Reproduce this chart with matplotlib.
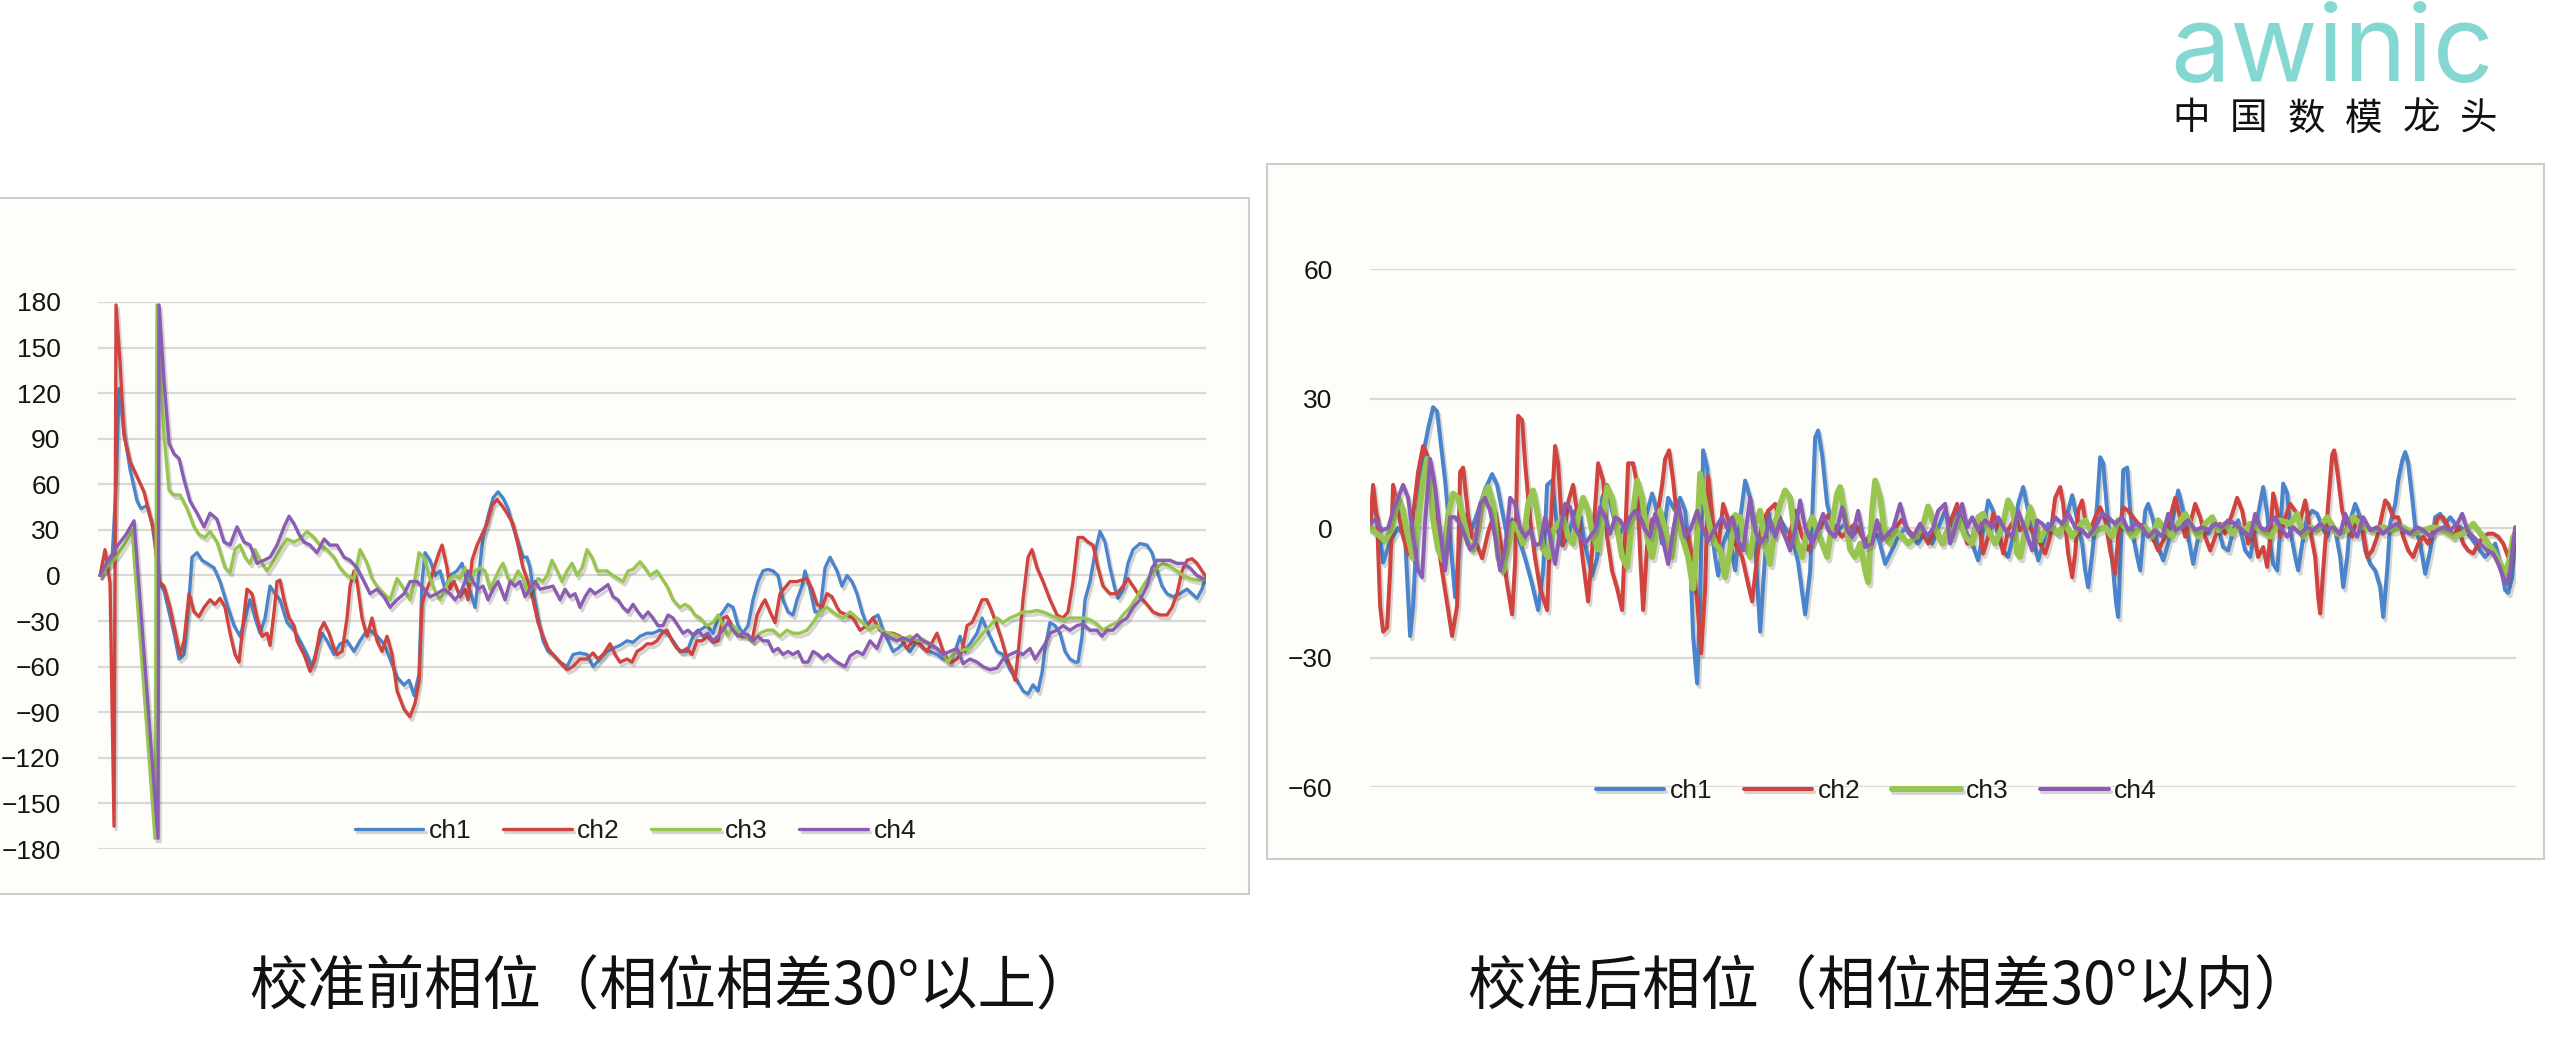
import matplotlib
matplotlib.use('Agg')
import matplotlib.pyplot as plt
import matplotlib.patheffects as pe
from matplotlib.patches import Rectangle

plt.rcParams['font.family'] = ['Noto Sans CJK SC', 'DejaVu Sans']

# channels and excel-like colours
series_names = ['ch1', 'ch2', 'ch3', 'ch4']
colors = ['#4A84CD', '#D0433F', '#98C54F', '#8A5CB3']

before_ticks = [-180, -150, -120, -90, -60, -30, 0, 30, 60, 90, 120, 150, 180]
after_ticks = [-60, -30, 0, 30, 60]

captions = ['校准前相位（相位相差30°以上）', '校准后相位（相位相差30°以内）']
logo_word = 'awinic'
logo_slogan = '中国数模龙头'

# ---- phase before calibration: (sample, degrees)
before_ch1 = [(2, 0), (8, 5), (14, 10), (18, 60), (21, 123), (26, 94), (32, 70), (39, 49), (43, 44), (49, 46),
              (54, 34), (57, 20), (61, -4), (66, -10), (76, -38), (81, -55), (86, -52), (91, -16), (94, 12),
              (99, 15), (104, 10), (109, 8), (116, 5), (122, -4), (129, -19), (136, -33), (142, -40), (147, -28),
              (152, -16), (157, -28), (162, -38), (167, -28), (172, -7), (177, -12), (182, -16), (189, -31),
              (196, -36), (202, -43), (209, -52), (214, -60), (219, -48), (224, -38), (229, -43), (236, -52),
              (242, -45), (249, -43), (256, -50), (262, -43), (267, -38), (272, -36), (279, -40), (286, -45),
              (292, -55), (299, -67), (306, -72), (311, -69), (316, -79), (321, -65), (324, -4), (327, 15),
              (332, 10), (337, 0), (342, 3), (347, -9), (352, 0), (359, 3), (364, 8), (369, -4), (377, -21),
              (380, -4), (385, 25), (390, 39), (395, 51), (400, 55), (405, 51), (410, 44), (415, 32), (420, 22),
              (425, 12), (429, 12), (432, 5), (435, -9), (440, -28), (445, -43), (450, -50), (455, -52),
              (462, -57), (469, -60), (475, -52), (482, -51), (489, -52), (495, -60), (502, -55), (509, -50),
              (515, -48), (522, -46), (529, -43), (535, -44), (542, -40), (549, -38), (555, -38), (562, -36),
              (569, -38), (575, -43), (582, -50), (589, -50), (595, -40), (602, -36), (609, -33), (615, -38),
              (620, -28), (625, -24), (630, -19), (635, -21), (640, -33), (645, -38), (650, -33), (655, -16),
              (660, -4), (665, 3), (670, 4), (675, 3), (680, 0), (685, -16), (690, -24), (695, -26), (699, -16),
              (704, -7), (707, 3), (712, -9), (717, -24), (722, -24), (727, 5), (732, 12), (739, 3), (744, -7),
              (749, 0), (754, -4), (759, -12), (764, -24), (769, -33), (775, -28), (780, -26), (785, -36),
              (790, -43), (795, -50), (800, -48), (805, -45), (812, -50), (819, -43), (825, -48), (832, -50),
              (839, -52), (845, -55), (852, -57), (857, -50), (862, -40), (867, -50), (872, -45), (879, -38),
              (884, -28), (889, -36), (894, -43), (899, -50), (905, -52), (912, -62), (919, -69), (925, -76),
              (930, -78), (935, -72), (940, -76), (944, -64), (947, -48), (952, -31), (957, -33), (962, -38),
              (967, -50), (972, -55), (977, -57), (980, -57), (984, -40), (987, -16), (992, -4), (997, 15),
              (1002, 29), (1007, 22), (1012, 5), (1017, -9), (1020, -15), (1025, -9), (1030, 8), (1035, 17),
              (1042, 21), (1049, 20), (1054, 15), (1059, 3), (1064, -7), (1069, -12), (1075, -14), (1082, -12),
              (1089, -9), (1094, -12), (1099, -15), (1104, -9), (1107, -2)]

before_ch2 = [(2, 0), (7, 17), (12, -5), (16, -165), (18, 178), (22, 140), (26, 92), (32, 75), (39, 65), (46, 55),
              (52, 39), (56, 29), (61, -4), (66, -7), (72, -21), (79, -43), (82, -52), (86, -43), (91, -12),
              (96, -24), (101, -27), (106, -21), (112, -16), (117, -19), (122, -15), (127, -21), (132, -38),
              (137, -52), (141, -57), (146, -26), (149, -9), (154, -12), (159, -28), (164, -40), (169, -38),
              (172, -46), (176, -24), (179, -4), (182, -3), (186, -16), (191, -28), (196, -33), (199, -43),
              (206, -52), (212, -63), (217, -55), (222, -36), (226, -31), (231, -38), (236, -48), (239, -52),
              (244, -50), (249, -28), (252, -7), (256, 3), (259, -4), (264, -28), (269, -40), (274, -28),
              (279, -43), (284, -50), (289, -40), (294, -52), (299, -76), (306, -88), (312, -93), (317, -84),
              (321, -69), (324, -19), (327, -12), (332, -4), (336, 5), (341, 15), (344, 20), (349, 5), (352, -9),
              (356, -4), (362, -14), (367, -9), (370, -16), (374, 10), (379, 20), (384, 27), (389, 34), (394, 46),
              (399, 50), (404, 46), (409, 41), (415, 34), (420, 20), (425, 5), (430, -4), (435, -16), (440, -31),
              (445, -40), (450, -48), (455, -52), (462, -57), (469, -62), (475, -60), (482, -55), (489, -55),
              (495, -51), (500, -55), (505, -52), (512, -45), (517, -52), (522, -57), (529, -55), (534, -57),
              (539, -50), (544, -48), (549, -45), (554, -45), (559, -43), (564, -38), (569, -36), (574, -43),
              (579, -48), (584, -50), (589, -48), (594, -52), (599, -43), (604, -43), (609, -40), (615, -44),
              (620, -43), (625, -28), (629, -27), (634, -33), (639, -38), (644, -40), (649, -40), (654, -43),
              (659, -26), (664, -19), (667, -16), (672, -24), (677, -31), (682, -12), (687, -8), (692, -4),
              (699, -4), (704, -3), (709, -2), (714, -9), (719, -19), (724, -21), (729, -12), (734, -14),
              (739, -21), (742, -24), (749, -26), (755, -28), (762, -36), (769, -33), (775, -28), (782, -36),
              (789, -38), (795, -38), (802, -40), (809, -48), (815, -43), (822, -45), (829, -50), (835, -43),
              (839, -38), (844, -48), (849, -55), (854, -57), (859, -55), (864, -50), (869, -33), (874, -31),
              (879, -24), (884, -16), (889, -16), (894, -24), (899, -33), (904, -43), (909, -55), (914, -62),
              (917, -69), (920, -52), (925, -16), (930, 12), (934, 17), (939, 5), (945, -4), (952, -16),
              (959, -26), (965, -28), (970, -24), (975, -4), (980, 25), (985, 25), (990, 22), (995, 20),
              (1000, 5), (1005, -7), (1012, -12), (1019, -12), (1025, -7), (1030, -2), (1035, -7), (1042, -14),
              (1049, -19), (1055, -24), (1062, -26), (1069, -26), (1074, -21), (1079, -12), (1084, 3), (1089, 10),
              (1094, 11), (1099, 8), (1104, 3), (1107, 0)]

before_ch3 = [(2, 0), (8, 5), (14, 9), (20, 14), (26, 20), (34, 30), (57, -173), (59, 178), (66, 92), (71, 56),
              (76, 53), (82, 53), (89, 44), (96, 32), (101, 27), (107, 25), (112, 29), (119, 22), (127, 5),
              (132, 2), (137, 17), (142, 20), (147, 12), (152, 8), (157, 17), (162, 10), (169, 3), (176, 10),
              (182, 17), (189, 24), (196, 22), (202, 24), (209, 29), (216, 25), (222, 20), (229, 17), (236, 12),
              (242, 5), (249, 0), (256, -2), (262, 17), (269, 8), (274, -2), (279, -7), (286, -12), (292, -16),
              (299, -2), (306, -9), (312, -16), (317, -2), (321, 15), (326, 12), (331, 0), (336, -9), (342, -16),
              (347, -9), (352, -2), (357, 0), (362, -2), (367, 5), (372, -4), (377, 3), (382, 5), (387, 3),
              (392, -9), (397, -2), (402, 5), (405, 8), (410, -2), (415, -4), (420, 3), (425, -2), (430, -12),
              (435, -7), (440, -2), (445, -4), (449, 0), (454, 10), (459, 3), (464, -4), (469, 3), (474, 8),
              (479, 0), (484, 5), (489, 17), (494, 12), (499, 3), (504, 3), (509, 3), (515, 0), (520, -2),
              (525, -4), (530, 3), (535, 4), (542, 9), (547, 5), (552, 0), (559, 3), (564, -2), (569, -7),
              (575, -16), (582, -21), (587, -19), (592, -21), (597, -26), (602, -28), (609, -33), (615, -31),
              (620, -26), (625, -33), (630, -40), (635, -33), (642, -38), (649, -40), (655, -43), (662, -38),
              (669, -36), (675, -36), (682, -40), (689, -36), (695, -38), (702, -38), (709, -36), (715, -31),
              (722, -24), (729, -21), (735, -24), (739, -26), (745, -28), (752, -24), (759, -28), (765, -31),
              (772, -36), (779, -33), (785, -37), (792, -38), (799, -40), (805, -42), (812, -40), (819, -43),
              (825, -42), (832, -45), (839, -48), (845, -52), (850, -57), (855, -52), (860, -50), (865, -49),
              (872, -48), (879, -43), (885, -38), (892, -33), (899, -28), (905, -31), (912, -28), (919, -26),
              (925, -24), (932, -24), (939, -23), (945, -24), (952, -26), (959, -28), (965, -29), (972, -28),
              (979, -28), (985, -28), (992, -29), (999, -32), (1005, -36), (1012, -33), (1019, -31), (1025, -26),
              (1032, -21), (1039, -14), (1045, -7), (1052, 0), (1059, 5), (1065, 8), (1072, 6), (1079, 3),
              (1085, 0), (1092, -2), (1099, -3), (1105, -3)]

before_ch4 = [(2, 0), (10, 10), (20, 20), (28, 27), (36, 36), (60, -173), (61, 178), (66, 128), (71, 87), (76, 80),
              (81, 77), (86, 63), (92, 49), (99, 41), (106, 32), (112, 41), (119, 37), (126, 22), (132, 20),
              (139, 32), (146, 22), (152, 20), (159, 8), (166, 10), (172, 12), (179, 20), (186, 32), (191, 39),
              (196, 34), (201, 27), (206, 22), (212, 20), (219, 15), (226, 24), (232, 20), (239, 20), (246, 12),
              (252, 10), (259, 5), (266, -4), (272, -12), (279, -9), (286, -14), (292, -21), (299, -16),
              (306, -12), (312, -4), (319, -4), (326, -9), (332, -14), (339, -12), (346, -9), (352, -12),
              (357, -16), (362, -12), (367, -4), (370, 3), (375, -4), (380, -9), (385, -7), (390, -16), (395, -9),
              (400, -4), (407, -16), (412, -4), (417, -7), (422, -4), (427, -14), (432, -9), (437, -4), (442, -9),
              (449, -8), (455, -7), (462, -16), (467, -9), (472, -14), (477, -12), (482, -21), (487, -14),
              (492, -9), (497, -12), (504, -9), (510, -6), (515, -14), (520, -16), (525, -21), (530, -24),
              (535, -19), (540, -24), (545, -28), (550, -24), (555, -28), (560, -33), (565, -33), (570, -26),
              (575, -28), (580, -33), (585, -38), (590, -36), (595, -39), (600, -36), (605, -40), (610, -38),
              (615, -43), (620, -40), (625, -36), (630, -31), (635, -36), (640, -40), (645, -38), (650, -39),
              (655, -43), (660, -40), (665, -43), (670, -43), (675, -50), (680, -48), (685, -52), (690, -50),
              (695, -52), (700, -50), (705, -57), (710, -57), (715, -50), (720, -52), (725, -55), (730, -52),
              (735, -55), (739, -57), (747, -60), (752, -53), (759, -50), (765, -52), (772, -43), (779, -48),
              (785, -38), (792, -41), (799, -43), (805, -41), (812, -43), (819, -39), (825, -43), (832, -45),
              (839, -48), (845, -52), (852, -50), (859, -48), (865, -58), (872, -55), (879, -57), (885, -60),
              (892, -62), (899, -61), (905, -55), (912, -52), (919, -50), (925, -52), (932, -48), (937, -55),
              (942, -50), (947, -45), (952, -38), (959, -36), (965, -33), (972, -36), (979, -33), (985, -32),
              (992, -36), (999, -36), (1004, -40), (1009, -36), (1015, -36), (1022, -31), (1029, -28),
              (1035, -21), (1042, -16), (1049, -7), (1054, 5), (1059, 10), (1065, 10), (1072, 10), (1079, 8),
              (1085, 8), (1092, 5), (1099, 0), (1105, -2)]

# ---- phase after calibration
after_ch1 = [(0, 3), (3, 5), (8, 2), (13, -8), (20, -3), (28, 0), (35, -2), (40, -25), (43, -18), (48, 5), (53, 17),
             (58, 23), (63, 28), (67, 27), (70, 21), (75, 11), (80, -2), (85, -16), (90, -2), (95, 3), (102, 0),
             (108, 4), (115, 9), (122, 12.5), (127, 10), (132, 4), (137, -2), (142, 2), (148, -2), (155, -7),
             (162, -13), (168, -19), (173, -10), (177, 10), (182, 11), (187, 0), (192, -4), (198, -2), (205, 4),
             (210, 3), (215, -4), (222, -11), (227, -7), (232, 7), (237, 10), (242, 4), (248, -2), (255, 1),
             (262, 3), (268, 6), (275, 2), (282, 8), (285, 5.6), (292, -3.6), (298, 7), (305, 4), (310, 7),
             (315, 4), (320, -6.7), (323, -25), (327, -36), (330, -17), (333, 18), (337, 14), (340, 2),
             (345, -6.7), (348, -11), (353, -3.6), (358, -0.5), (365, -9.8), (370, 2), (375, 11), (380, 7),
             (385, -3.6), (390, -24), (393, -13), (398, 4), (403, -2), (408, 3), (415, 0), (422, -2), (428, -8),
             (435, -20), (440, -10), (445, 21), (448, 22.6), (452, 17), (457, 5.6), (462, 1), (468, -0.5),
             (475, 1), (482, -2), (488, 0), (495, -3.6), (502, -0.5), (508, -2), (515, -8.3), (522, -5),
             (528, -2), (535, 0), (542, -2), (548, -3.6), (555, -1), (562, -3.6), (568, 0), (575, 4),
             (582, -0.5), (588, 4), (595, -0.5), (602, -3.6), (608, -7.5), (613, -0.5), (618, 6.4), (623, 4),
             (628, -2), (633, -5.2), (638, -6.7), (643, -2), (648, 5.6), (653, 9.5), (658, 4), (663, -2),
             (668, -7.5), (673, -3.6), (678, 1), (683, -0.5), (688, -1.3), (693, 1), (698, 4), (702, 7.6),
             (707, 1.8), (712, -3.6), (715, -9.8), (718, -13.7), (722, -6), (727, 5.6), (730, 16.4), (733, 15),
             (737, 4), (740, -3.6), (743, -9.8), (746, -17.5), (748, -20.6), (751, -2), (753, 13.4), (757, 14),
             (760, 4), (763, -2), (767, -6.7), (770, -9.8), (775, 4), (778, 5.6), (783, 1.8), (788, -4.4),
             (793, -7.5), (798, -3.6), (803, 2.5), (808, 8.7), (813, 4), (818, -2), (823, -8.3), (828, -2),
             (833, 1), (838, -1.3), (843, 1), (848, 0.2), (853, -4.4), (858, -5.2), (863, -0.5), (868, 1.8),
             (875, -5.2), (880, -6.7), (885, -0.5), (890, 5.6), (893, 9.5), (897, 3.3), (900, -3.6), (903, -8.3),
             (907, -9.8), (910, -0.5), (913, 10.3), (917, 8), (920, -0.5), (925, -6.7), (928, -9.8), (932, -3.6),
             (937, 2.5), (942, 4), (947, 3.3), (952, 0.2), (957, -2), (960, 1), (965, -0.5), (970, -6.7),
             (973, -13.7), (977, -6.7), (980, 1.8), (985, 5.6), (990, 2.5), (995, -5.2), (1000, -8.3),
             (1005, -9.8), (1010, -13.7), (1013, -20.6), (1017, -9.8), (1020, 1), (1025, 5.6), (1028, 11),
             (1032, 15.6), (1035, 17.6), (1038, 15), (1042, 7), (1045, 0.2), (1050, -3.6), (1055, -10.6),
             (1060, -5.2), (1065, 2.5), (1070, 3.3), (1075, 1), (1080, 2.5), (1085, 1), (1090, 0.2), (1095, -0.5),
             (1100, -2), (1105, -3.6), (1110, -5.2), (1115, -6.7), (1120, -5.2), (1125, -3.6), (1130, -8.3),
             (1135, -14.4), (1138, -15), (1142, -11.4), (1145, 0)]

after_ch2 = [(0, 0), (3, 10), (7, 2), (10, -18), (13, -24), (17, -23), (20, -10), (23, 10), (28, 4), (33, -2),
             (38, -6), (43, 3), (48, 13), (53, 19), (57, 17), (62, 12), (67, -2), (72, -10), (78, -19), (82, -25),
             (87, -18), (90, 13), (93, 14), (98, 3), (102, -2), (107, -4), (112, -7), (118, -1), (125, 4),
             (132, -5), (137, -13), (142, -20), (145, -8), (148, 26), (152, 25), (155, 15), (160, 2), (165, -7),
             (170, -14), (177, -19), (180, -2), (185, 19), (188, 15), (193, -4), (198, 6), (203, 10), (208, 2),
             (213, -8), (218, -17), (223, -2), (228, 15), (233, 11), (237, -2), (242, -10), (247, -14), (252, -19),
             (255, -2), (258, 15), (263, 15), (267, 10), (270, -6), (273, -19), (277, -4), (282, 2), (287, 2.5),
             (292, 10), (295, 16), (299, 18), (303, 11), (307, 2), (312, -2), (317, -0.5), (322, -6.7),
             (327, -17), (331, -29), (335, -14), (338, 12), (343, 1), (348, -5), (353, 5.6), (358, 2),
             (365, -3.6), (372, -6.7), (378, -13), (382, -17), (387, -6.7), (392, 1), (398, 4), (405, 5.6),
             (412, -0.5), (418, -3.6), (425, 4), (432, -2), (438, -5), (445, -2), (452, 1), (458, 3), (465, 0),
             (472, -2), (478, -0.5), (485, 1), (492, -2), (498, -3.6), (505, -0.5), (512, 1), (518, -2), (525, 0),
             (532, 2), (538, -0.5), (545, -2), (552, -1), (558, -3.6), (565, -0.5), (572, -3), (575, -2),
             (582, 2.5), (587, 5.6), (592, 0.2), (597, -3.6), (602, -2), (608, 2.5), (613, -5.9), (618, -2),
             (623, 3.3), (628, 0.2), (633, -5.9), (638, -0.5), (645, 2.5), (650, -0.5), (655, 1), (662, -0.5),
             (668, -2.8), (675, -5.9), (680, -2), (685, 7), (690, 9.5), (693, 5.6), (698, -5.9), (702, -11.4),
             (705, -5.9), (708, 4), (712, 6.4), (715, 1.8), (720, -0.5), (725, 2.5), (730, 4.8), (735, 1.8),
             (740, -5.2), (745, -10.6), (748, -2), (753, 4.8), (758, 4), (763, 2.5), (768, 1), (775, 0.2),
             (782, -2), (788, -5.2), (795, -2), (800, 2.5), (805, 7), (810, 2.5), (815, -2), (820, 1), (825, 5.6),
             (830, 2.5), (835, -2), (840, -5.2), (845, -2), (850, 1), (855, -1.3), (862, 3.3), (867, 7), (872, 4),
             (878, -3.6), (883, -0.5), (888, -6.7), (893, -4.4), (897, -9), (900, -2), (903, 8), (907, 4),
             (910, -2), (915, 2.5), (920, 5.6), (925, 4), (930, 1.8), (935, 6.4), (940, -0.5), (945, -6.7),
             (948, -16), (950, -19.8), (953, -9.8), (958, 5.6), (962, 17), (964, 18), (967, 13.4), (972, 4),
             (977, 0.2), (982, -2), (987, 2.5), (992, 0.2), (997, -6.7), (1002, -5.2), (1007, -2), (1012, 3.3),
             (1015, 6.4), (1018, 5.6), (1023, 2.5), (1028, 2.5), (1033, -2), (1038, -5.2), (1043, -6.7),
             (1048, -3.6), (1053, -2), (1058, -3.6), (1063, -0.5), (1068, 2.5), (1073, 2.5), (1078, 0.2),
             (1083, -2), (1088, 0.2), (1093, -3.6), (1098, -5.2), (1103, -5.9), (1108, -3.6), (1113, -2),
             (1118, -1.3), (1123, -1.3), (1128, -2), (1133, -3.6), (1138, -6.7), (1142, -3.6), (1145, -0.5)]

after_ch3 = [(0, 0), (8, -1.5), (15, -3), (22, 0), (28, 7), (33, 4), (38, -2), (43, -7), (48, 2), (53, 11), (57, 16),
             (60, 13), (63, 2), (68, -5), (73, -7.5), (78, 3), (83, 8), (88, 7), (93, 2.5), (98, -3.6), (103, -5),
             (108, -0.5), (113, 7), (118, 9.5), (123, 5.6), (128, -6.7), (133, -10), (138, -4.5), (143, 1),
             (148, -0.5), (153, -3.6), (158, 5.6), (163, 8.7), (168, 2.5), (173, -5), (178, -6.7), (183, -0.5),
             (188, 1), (193, 2.5), (198, -2), (203, -3.6), (208, 2.5), (213, 7), (218, 4), (223, -2), (228, -5),
             (233, 2.5), (237, 9.5), (242, 7), (247, 0), (252, -6.7), (257, -9), (262, 2), (267, 11), (272, 7),
             (277, -2), (282, -6.7), (290, 4), (295, -0.5), (302, -6.7), (307, 4), (312, -2), (318, -6.7),
             (323, -14), (327, -2), (330, 12.6), (335, 5.6), (340, 0), (345, -3.6), (350, -5), (355, -11.4),
             (360, -5), (365, 3), (370, 2.5), (375, -3.6), (380, -6.7), (385, 1), (390, 4), (395, -3.6),
             (400, -8.3), (405, 1), (410, 5.6), (415, 8.7), (420, 7), (425, -2), (432, -6.7), (437, -0.5),
             (442, 2.5), (447, -0.5), (452, -3.6), (457, -6.7), (462, 1), (467, 8), (470, 9.5), (475, 2.5),
             (480, -5), (485, -6.7), (490, -3.6), (495, -9.8), (498, -12.5), (502, 4), (505, 11), (510, 7),
             (515, -2), (520, -3.6), (525, -0.5), (532, -2), (538, -3.6), (545, -2), (552, 0), (558, 5), (565, 0),
             (572, -3.6), (578, 0), (582, -2), (588, 2.5), (595, -2), (602, -3.6), (608, 2.5), (613, 3.3),
             (618, -0.5), (625, -3.6), (632, 0.2), (638, 6.4), (643, 4), (647, -5.9), (650, -6.7), (655, -0.5),
             (660, 4.8), (665, 1), (670, -2.8), (675, -0.5), (682, 0.2), (688, -1.3), (695, 1), (702, -2),
             (708, 0.2), (715, 1.8), (722, -1.3), (728, -0.5), (735, 0.2), (742, -2), (748, 1.8), (755, 0.2),
             (762, -2), (768, -0.5), (775, 0.2), (782, -2), (788, 1.8), (795, -0.5), (802, -2), (808, 1),
             (815, 3.3), (822, 0.2), (828, -2), (835, 1), (842, 2.5), (848, -0.5), (855, 1), (862, -1.3),
             (868, 0.2), (875, -0.5), (880, 1), (890, -0.5), (900, -2), (910, 1.8), (920, 1), (927, 3.3),
             (933, -2), (940, 0.2), (947, -0.5), (957, 2.5), (967, -1.3), (977, -0.5), (983, 2.5), (993, 0.2),
             (1003, -0.5), (1013, 0.2), (1023, -0.5), (1033, 0.2), (1043, -1.3), (1053, -0.5), (1063, 0.2),
             (1073, -0.5), (1083, -2), (1093, -1.3), (1103, 1), (1113, -2), (1123, -5.2), (1130, -8.3),
             (1135, -10.6), (1140, -6.7), (1143, -2)]

after_ch4 = [(0, 1), (5, 2), (12, -0.5), (18, 0), (23, 4), (28, 7), (33, 10), (38, 7), (43, -2), (48, -9.8),
             (52, -11.4), (55, 1.5), (60, 16), (65, 9.5), (70, -0.5), (75, -9.8), (80, 2.5), (85, 2.5), (90, 1),
             (95, -2), (100, -5), (105, -3.6), (110, 5.6), (115, 7), (120, 4), (125, -2), (130, -9.8), (135, -5),
             (140, 7), (145, 5.6), (150, 0), (155, -2), (160, -0.5), (165, -4), (170, -3.6), (175, 2.5), (180, -2),
             (185, -8.3), (190, -0.5), (195, 5.6), (200, 4.8), (205, 0), (210, -2), (215, -3.6), (220, -2),
             (225, -0.5), (230, 4.8), (235, 2.5), (240, -1.3), (245, 2.5), (250, 1.8), (255, -0.5), (260, 2.5),
             (265, 4), (270, 2.5), (275, -0.5), (280, -2), (285, 3.3), (292, -2), (298, -8.3), (303, -0.5),
             (308, 5.6), (315, -2), (320, -0.5), (327, 4), (332, 0), (338, -3), (345, 0), (352, 2.5), (357, 0),
             (362, 2.5), (368, -3), (373, -5.2), (380, 7), (385, -0.5), (390, -3.6), (395, -2), (400, 1.8),
             (405, -2), (410, 1.8), (415, -2), (420, -5.2), (425, -0.5), (430, 6.4), (435, 0), (442, -3.6),
             (448, 0), (453, 3.3), (458, -0.5), (465, -2), (472, 4.8), (477, -0.5), (482, -2), (488, 4),
             (495, -4.4), (502, -3.6), (507, 1.8), (512, -2.8), (518, -1.3), (523, 0), (530, 5.6), (537, -0.5),
             (543, -2), (550, 1), (557, -2), (563, 0), (568, 4), (575, 5.6), (580, -3.6), (585, 0.2), (592, 5.6),
             (597, 0.2), (602, 2.5), (608, -0.5), (615, 1.8), (622, 0.2), (628, 2.5), (635, -0.5), (642, -2),
             (648, 4), (655, -0.5), (662, -5.2), (667, 1.8), (672, 1), (678, -0.5), (685, 2.5), (692, 1),
             (698, 3.3), (705, 0.2), (712, -0.5), (718, -2), (725, 0.2), (732, 3.3), (738, 2.5), (745, 1),
             (752, 2.5), (758, -0.5), (765, 1), (772, 0.2), (778, -2), (785, -0.5), (792, -2), (798, 3.3),
             (805, -0.5), (812, 0.2), (818, 1.8), (825, -0.5), (832, 0.2), (838, -0.5), (845, 1), (852, 0.2),
             (858, 1.8), (865, 1), (872, -0.5), (880, -2), (885, 3.3), (890, 0.2), (895, -0.5), (900, 1),
             (905, 2.5), (910, 0.2), (917, -2), (923, 0.2), (930, -1.3), (937, 0.2), (943, -0.5), (950, 1),
             (957, -0.5), (963, 0.2), (970, -1.3), (975, 3.3), (980, 0.2), (987, -2), (993, 2.5), (1000, -0.5),
             (1007, 0.2), (1013, -1.3), (1020, 0.2), (1027, 1), (1033, -0.5), (1040, -1.3), (1047, 0.2),
             (1053, -0.5), (1060, -2), (1067, -0.5), (1073, 0.2), (1080, -0.5), (1087, 1), (1092, 3.3),
             (1097, -0.5), (1103, -2), (1110, -3.6), (1117, -5.2), (1123, -5.9), (1128, -8.3), (1133, -11.4),
             (1137, -12.9), (1140, -9.8), (1143, -3.6), (1145, 0.2)]

before = [before_ch1, before_ch2, before_ch3, before_ch4]
after = [after_ch1, after_ch2, after_ch3, after_ch4]

fig = plt.figure(figsize=(25.6, 10.61), dpi=100)
fig.patch.set_facecolor('white')

# the two pasted excel charts sit in light framed boxes
fig.add_artist(Rectangle((-0.005, 0.1574), 0.4927, 0.656, transform=fig.transFigure,
                         facecolor='#FDFDF9', edgecolor='#CDCDCD', lw=1.5, zorder=0))
fig.add_artist(Rectangle((0.4949, 0.1904), 0.4989, 0.655, transform=fig.transFigure,
                         facecolor='#FDFDF9', edgecolor='#CDCDCD', lw=1.5, zorder=0))

shadow = [pe.SimpleLineShadow(offset=(1.5, -2.5), shadow_color='#444444', alpha=0.22), pe.Normal()]


def draw_panel(ax, data, ticks, widths, xmax, legend_xy):
    for name, col, pts, lw in zip(series_names, colors, data, widths):
        xs = [p[0] for p in pts]
        ys = [p[1] for p in pts]
        ax.plot(xs, ys, color=col, lw=lw, label=name, solid_joinstyle='round',
                solid_capstyle='round', path_effects=shadow)
    ax.set_facecolor('none')
    ax.set_xlim(0, xmax)
    ax.set_ylim(ticks[0], ticks[-1])
    ax.set_yticks(ticks)
    ax.set_xticks([])
    ax.grid(axis='y', color='#D9D9D9', lw=1.6)
    ax.set_axisbelow(True)
    for s in ax.spines.values():
        s.set_visible(False)
    ax.tick_params(axis='y', length=0, pad=27, labelsize=19, labelcolor='#141414')
    for t in ax.get_yticklabels():
        t.set_family(['Liberation Sans', 'DejaVu Sans'])
    leg = ax.legend(loc='center', bbox_to_anchor=legend_xy, ncol=4, frameon=False,
                    handlelength=2.6, columnspacing=1.2, handletextpad=0.2,
                    prop={'family': ['Liberation Sans', 'DejaVu Sans'], 'size': 19})
    for t in leg.get_texts():
        t.set_color('#1a1a1a')


ax1 = fig.add_axes([0.0383, 0.1998, 0.4328, 0.5156])
draw_panel(ax1, before, before_ticks, [2.4, 2.4, 2.4, 2.4], 1108, (0.485, 0.033))

ax2 = fig.add_axes([0.5352, 0.2582, 0.4477, 0.4882])
draw_panel(ax2, after, after_ticks, [2.9, 2.9, 4.3, 2.9], 1146, (0.4415, -0.008))

# captions under the charts
fig.text(672 / 2560, 1 - 988 / 1061, captions[0], ha='center', va='center', fontsize=42, color='#111111')
fig.text(1890 / 2560, 1 - 988 / 1061, captions[1], ha='center', va='center', fontsize=42, color='#111111')

# company logo, top right
fig.text(2170 / 2560, 1 - 81 / 1061, logo_word, ha='left', va='baseline', fontsize=77,
         color='#85D8D2', family=['Inter', 'DejaVu Sans'])
for i, ch in enumerate(logo_slogan):
    fig.text((2191 + i * 57.6) / 2560, 1 - 119 / 1061, ch, ha='center', va='center',
             fontsize=27, color='#111111')

fig.savefig('out.png', dpi=100, facecolor='white')
